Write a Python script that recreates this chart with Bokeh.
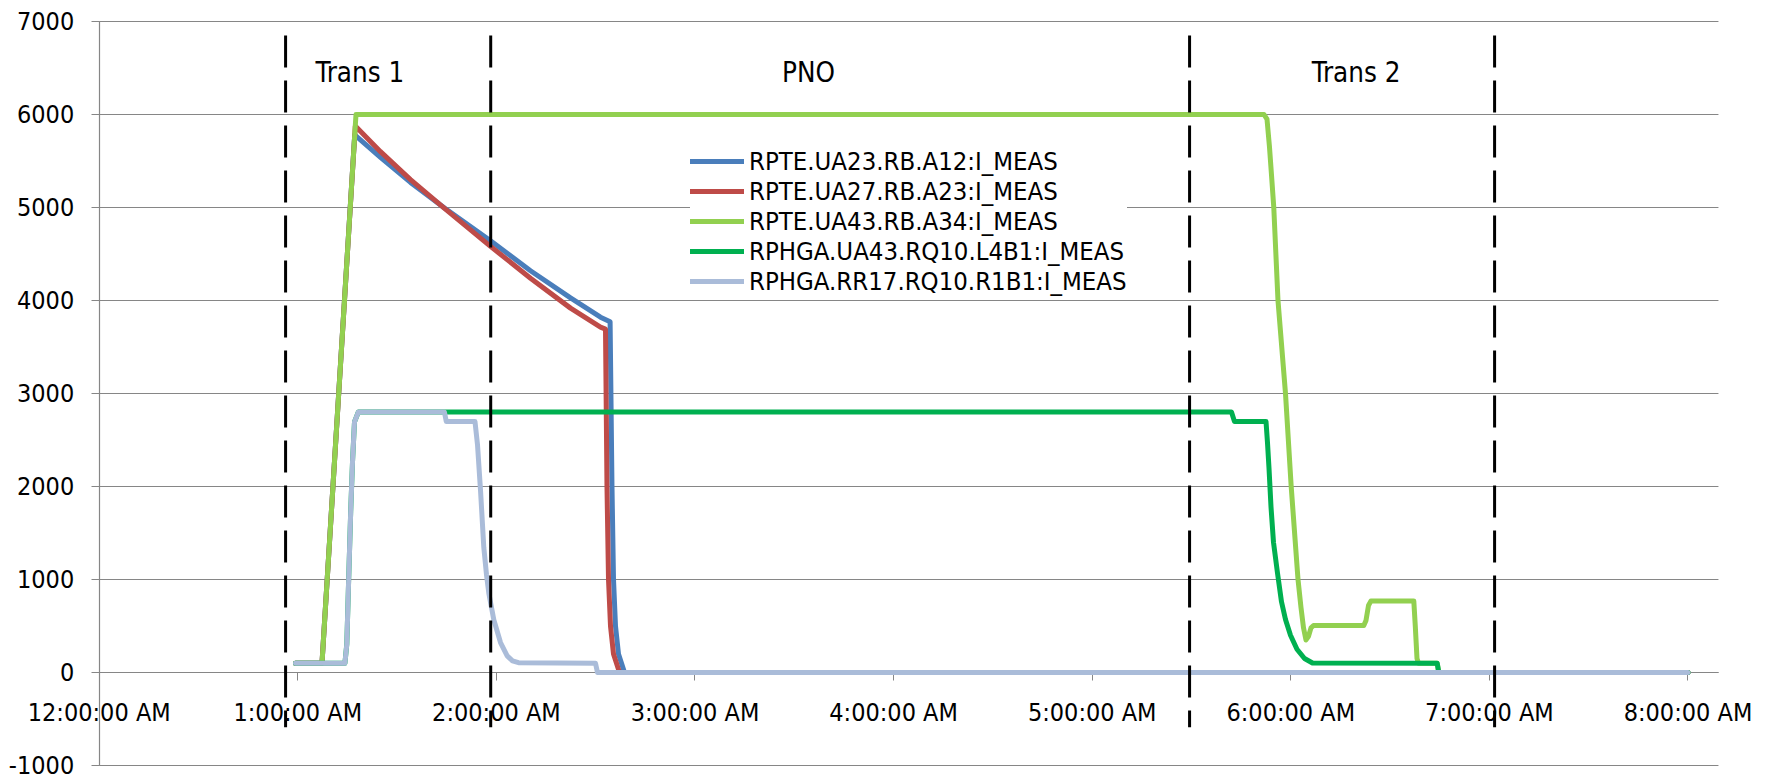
from bokeh.plotting import figure
from bokeh.models import FixedTicker, Legend, LegendItem, Range1d
from bokeh.core.properties import value
from bokeh.embed import file_html
from bokeh.resources import INLINE

FONT = "DejaVu Sans Condensed"
GRAY = "#868686"

# ---- axes -------------------------------------------------------------
tick_minutes = [0, 60, 120, 180, 240, 300, 360, 420, 480]
tick_labels = ["12:00:00 AM", "1:00:00 AM", "2:00:00 AM", "3:00:00 AM", "4:00:00 AM",
               "5:00:00 AM", "6:00:00 AM", "7:00:00 AM", "8:00:00 AM"]
y_ticks = [-1000, 0, 1000, 2000, 3000, 4000, 5000, 6000, 7000]
y_labels = ["-1000", "0", "1000", "2000", "3000", "4000", "5000", "6000", "7000"]
X_MIN, X_MAX = 0, 489.2          # axis extent (minutes)
Y_MIN, Y_MAX = -1000, 7000       # axis extent (A)

# ---- series (time in minutes after midnight, current in A) -----------
names = ["RPTE.UA23.RB.A12:I_MEAS", "RPTE.UA27.RB.A23:I_MEAS", "RPTE.UA43.RB.A34:I_MEAS",
         "RPHGA.UA43.RQ10.L4B1:I_MEAS", "RPHGA.RR17.RQ10.R1B1:I_MEAS"]
colors = ["#4a7ebb", "#be4b48", "#92d050", "#00b050", "#aabcd9"]

t_a12 = [59.31, 67.31, 77.19, 84.98, 94.05, 104.32, 118.22, 130.30, 142.39, 151.45, 154.35,
         154.92, 155.38, 155.98, 156.89, 158.70, 480]
i_a12 = [100, 100, 5780, 5540, 5270, 4995, 4643, 4320, 4028, 3821, 3771,
         2000, 1000, 500, 200, 0, 0]

t_a23 = [59.31, 67.31, 77.37, 84.98, 94.05, 104.32, 118.22, 130.30, 142.39, 151.45, 152.96,
         153.41, 153.87, 154.47, 155.38, 157.19, 480]
i_a23 = [100, 100, 5876, 5600, 5300, 4990, 4582, 4240, 3918, 3713, 3692,
         2000, 1000, 500, 200, 0, 0]

t_a34 = [59.31, 67.31, 77.58, 351.90, 352.81, 353.56, 354.17, 354.86, 356.13, 358.40, 360.12,
         362.18, 363.08, 363.84, 364.59, 365.35, 366.10, 366.86, 382.05, 382.72, 383.47,
         384.23, 397.16, 397.61, 398.13, 398.58, 404.23, 404.71, 480]
i_a34 = [100, 100, 6000, 6000, 5950, 5650, 5350, 5000, 4000, 3000, 2000,
         1000, 700, 480, 350, 390, 480, 505, 505, 560, 720,
         770, 770, 500, 150, 100, 100, 0, 0]

t_l4b1 = [59.31, 74.23, 74.80, 75.38, 75.98, 76.53, 77.13, 78.28, 342.08, 342.99, 352.51,
          352.96, 353.41, 354.02, 354.77, 355.98, 357.19, 358.40, 359.91, 361.87, 364.14,
          366.56, 404.23, 404.71, 480]
i_l4b1 = [100, 100, 303, 1017, 1731, 2266, 2694, 2800, 2800, 2700, 2700,
          2470, 2200, 1780, 1400, 1070, 760, 570, 400, 250, 150,
          102, 100, 0, 0]

t_r1b1 = [59.31, 74.23, 74.80, 75.38, 75.98, 76.53, 77.13, 78.28, 104.29, 104.86, 113.53,
          114.29, 115.20, 116.19, 117.01, 117.70, 119.21, 121.24, 123.26, 124.86, 126.68,
          149.94, 150.54, 480]
i_r1b1 = [100, 100, 303, 1017, 1731, 2266, 2694, 2800, 2800, 2700, 2700,
          2450, 1960, 1346, 1050, 855, 568, 322, 179, 125, 105,
          100, 0, 0]

series_t = [t_a12, t_a23, t_a34, t_l4b1, t_r1b1]
series_i = [i_a12, i_a23, i_a34, i_l4b1, i_r1b1]

# ---- phases --------------------------------------------------------------
phase_bounds = [56.31, 118.28, 329.42, 421.57]
phase_names = ["Trans 1", "PNO", "Trans 2"]
phase_centers = [78.76, 214.29, 379.73]
phase_label_level = 6452
phase_line_top = 6850
phase_line_bottom = -588

# The frame fills the whole canvas; the axes cross inside it (Excel style),
# so the view extends a little beyond the axes' own extents.
p = figure(width=1762, height=780, output_backend="svg", toolbar_location=None,
           x_range=Range1d(-29.82, 502.51), y_range=Range1d(-1161.3, 7225.8),
           min_border_left=0, min_border_right=0, min_border_top=0, min_border_bottom=0)
p.outline_line_color = None
p.background_fill_color = "white"
p.border_fill_color = "white"
p.grid.visible = False

# horizontal grid lines limited to the axis extent
p.segment(x0=[X_MIN] * len(y_ticks), y0=y_ticks, x1=[X_MAX] * len(y_ticks), y1=y_ticks,
          line_color=GRAY, line_width=1.2)

ya = p.yaxis[0]
ya.fixed_location = X_MIN
ya.bounds = (Y_MIN, Y_MAX)
ya.level = "underlay"
ya.ticker = FixedTicker(ticks=y_ticks)
ya.major_label_overrides = {v: lab for v, lab in zip(y_ticks, y_labels)}
ya.axis_line_color = GRAY
ya.axis_line_width = 1.2
ya.major_tick_line_color = GRAY
ya.major_tick_out = 8
ya.major_tick_in = 0
ya.minor_tick_line_color = None
ya.major_label_text_font = FONT
ya.major_label_text_font_size = "25px"
ya.major_label_text_color = "black"
ya.major_label_standoff = 17

xa = p.xaxis[0]
xa.fixed_location = 0
xa.bounds = (X_MIN, X_MAX)
xa.level = "underlay"
xa.ticker = FixedTicker(ticks=tick_minutes)
xa.major_label_overrides = {m: lab for m, lab in zip(tick_minutes, tick_labels)}
xa.axis_line_color = GRAY
xa.axis_line_width = 1.2
xa.major_tick_line_color = GRAY
xa.major_tick_out = 8
xa.major_tick_in = 0
xa.minor_tick_line_color = None
xa.major_label_text_font = FONT
xa.major_label_text_font_size = "25px"
xa.major_label_text_color = "black"
xa.major_label_standoff = 18

renderers = []
for t, i, c in zip(series_t, series_i, colors):
    r = p.line(t, i, line_color=c, line_width=5, line_join="round", line_cap="round")
    renderers.append(r)

p.segment(x0=phase_bounds, y0=[phase_line_top] * len(phase_bounds),
          x1=phase_bounds, y1=[phase_line_bottom] * len(phase_bounds),
          line_color="black", line_width=3, line_dash="32 13")

p.text(x=phase_centers, y=[phase_label_level] * len(phase_centers), text=phase_names,
       text_align="center", text_baseline="middle", text_font=value(FONT),
       text_font_size="27.5px", text_color="black")

legend = Legend(items=[LegendItem(label=n, renderers=[r]) for n, r in zip(names, renderers)],
                location=(690, 484), background_fill_color="white", background_fill_alpha=1.0,
                border_line_color=None, padding=5, spacing=0, margin=0,
                glyph_width=54, glyph_height=30, label_height=30, label_standoff=5,
                label_text_font=FONT, label_text_font_size="25.5px", label_text_color="black")
p.add_layout(legend)

open("out.html", "w").write(file_html(p, INLINE))
